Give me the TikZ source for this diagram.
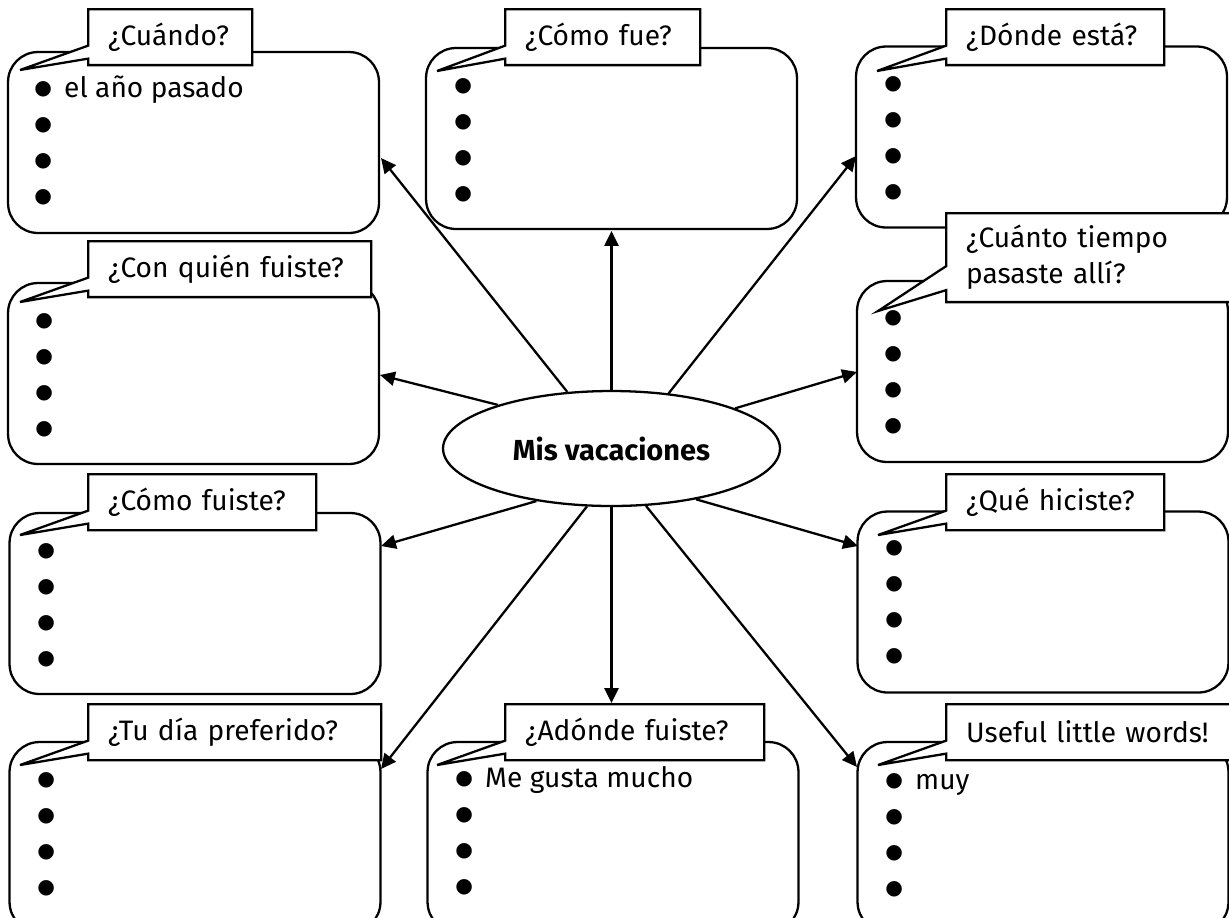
\documentclass[tikz,border=0pt]{standalone}
\usepackage{fontspec}
\setmainfont{Fira Sans}
\newfontfamily\dotfont{DejaVu Sans}
\usetikzlibrary{
    arrows.meta,
    shapes.geometric,
    shapes.callouts
}

\newcommand{\blt}{\makebox[17pt][l]{\raisebox{1.6pt}{\dotfont\fontsize{11.5}{11.5}\selectfont ●}}}

\tikzset{
    box/.style={draw, line width=1.3pt, rounded corners=0.6cm, minimum width=7.42cm, minimum height=3.62cm},
    lastbox/.style={box, minimum height=3.8cm},
    list/.style={anchor=north west, inner sep=0pt, align=left},
    ask/.style={draw, fill=white, line width=1.3pt, rectangle callout, anchor=north west,
        inner xsep=11.4pt, inner ysep=0pt, align=left, minimum height=1.12cm,
        callout pointer width=0.26cm},
    link/.style={-{Triangle[length=8.5pt,width=8pt]}, line width=1.3pt}
}

\begin{document}
\begin{tikzpicture}[x=0.02cm, y=-0.02cm, font=\fontsize{16}{20.5}\selectfont]
            \clip (0,0) rectangle (1229,917);

            \node[box] (when)   at (193.5,142.5) {};
            \node[box] (how)    at (611.5,138.5) {};
            \node[box] (where)  at (1041.5,137)  {};
            \node[box] (who)    at (193.5,373.5) {};
            \node[box] (long)   at (1042.5,371.5) {};
            \node[box] (travel) at (195,603.5)   {};
            \node[box] (did)    at (1043,602)    {};
            \node[lastbox] (day)    at (195,837)  {};
            \node[lastbox] (adonde) at (613,837)  {};
            \node[lastbox] (words)  at (1043,837) {};

            \node[list] (whenList)   at (34,72)  {\strut\blt el año pasado\\\blt\\\blt\\\blt};
            \node[list] (howList)    at (454,69) {\strut\blt\\\blt\\\blt\\\blt};
            \node[list] (whereList)  at (884,67) {\strut\blt\\\blt\\\blt\\\blt};
            \node[list] (whoList)    at (35,304) {\strut\blt\\\blt\\\blt\\\blt};
            \node[list] (longList)   at (884,301) {\strut\blt\\\blt\\\blt\\\blt};
            \node[list] (travelList) at (37,534) {\strut\blt\\\blt\\\blt\\\blt};
            \node[list] (didList)    at (885,531) {\strut\blt\\\blt\\\blt\\\blt};
            \node[list] (dayList)    at (37,763) {\strut\blt\\\blt\\\blt\\\blt};
            \node[list] (adondeList) at (455,762) {\strut\blt Me gusta mucho\\\blt\\\blt\\\blt};
            \node[list] (wordsList)  at (885,764) {\strut\blt muy\\\blt\\\blt\\\blt};

            \node[ask, text width=2.48cm, callout absolute pointer={(20,70)}]   (whenAsk)   at (87,8)    {\mbox{¿Cuándo?}};
            \node[ask, text width=3.1cm,  callout absolute pointer={(437,71)}]  (howAsk)    at (504,8)   {\mbox{¿Cómo fue?}};
            \node[ask, text width=3.56cm, callout absolute pointer={(877,71)}]  (whereAsk)  at (945,8)   {\mbox{¿Dónde está?}};
            \node[ask, text width=4.86cm, callout absolute pointer={(20,302)}]  (whoAsk)    at (87,240)  {\mbox{¿Con quién fuiste?}};
            \node[ask, text width=4.9cm,  minimum height=1.78cm, callout pointer width=0.48cm,
                  callout absolute pointer={(878,311)}] (longAsk) at (945,212) {\mbox{¿Cuánto tiempo}\\\mbox{pasaste allí?}};
            \node[ask, text width=3.76cm, callout absolute pointer={(20,535)}]  (travelAsk) at (87,473)  {\mbox{¿Cómo fuiste?}};
            \node[ask, text width=3.56cm, callout absolute pointer={(878,535)}] (didAsk)    at (945,473) {\mbox{¿Qué hiciste?}};
            \node[ask, text width=5.06cm, callout absolute pointer={(20,765)}]  (dayAsk)    at (87,703)  {\mbox{¿Tu día preferido?}};
            \node[ask, text width=4.38cm, callout absolute pointer={(437,765)}] (adondeAsk) at (504,703) {\mbox{¿Adónde fuiste?}};
            \node[ask, text width=4.9cm,  callout absolute pointer={(878,765)}] (wordsAsk)  at (945,703) {\mbox{Useful little words!}};

            \node[draw, ellipse, line width=1.3pt, minimum width=6.74cm, minimum height=2.3cm, inner sep=0pt,
                  font=\fontsize{16.5}{20.5}\selectfont\bfseries] (vac) at (611.5,448.5) {Mis vacaciones};

            \coordinate (whenTip)   at (381,158);
            \coordinate (howTip)    at (611.5,231);
            \coordinate (whereTip)  at (856,156);
            \coordinate (whoTip)    at (380,375);
            \coordinate (longTip)   at (857,372);
            \coordinate (travelTip) at (381,546);
            \coordinate (didTip)    at (858,546);
            \coordinate (dayTip)    at (381,769);
            \coordinate (adondeTip) at (611.5,703);
            \coordinate (wordsTip)  at (857,767);

            \draw[link] (vac.128)   -- (whenTip);
            \draw[link] (vac.90)    -- (howTip);
            \draw[link] (vac.44)    -- (whereTip);
            \draw[link] (vac.159.5) -- (whoTip);
            \draw[link] (vac.18)    -- (longTip);
            \draw[link] (vac.215)   -- (travelTip);
            \draw[link] (vac.329)   -- (didTip);
            \draw[link] (vac.247)   -- (dayTip);
            \draw[link] (vac.270)   -- (adondeTip);
            \draw[link] (vac.301)   -- (wordsTip);
\end{tikzpicture}
\end{document}
